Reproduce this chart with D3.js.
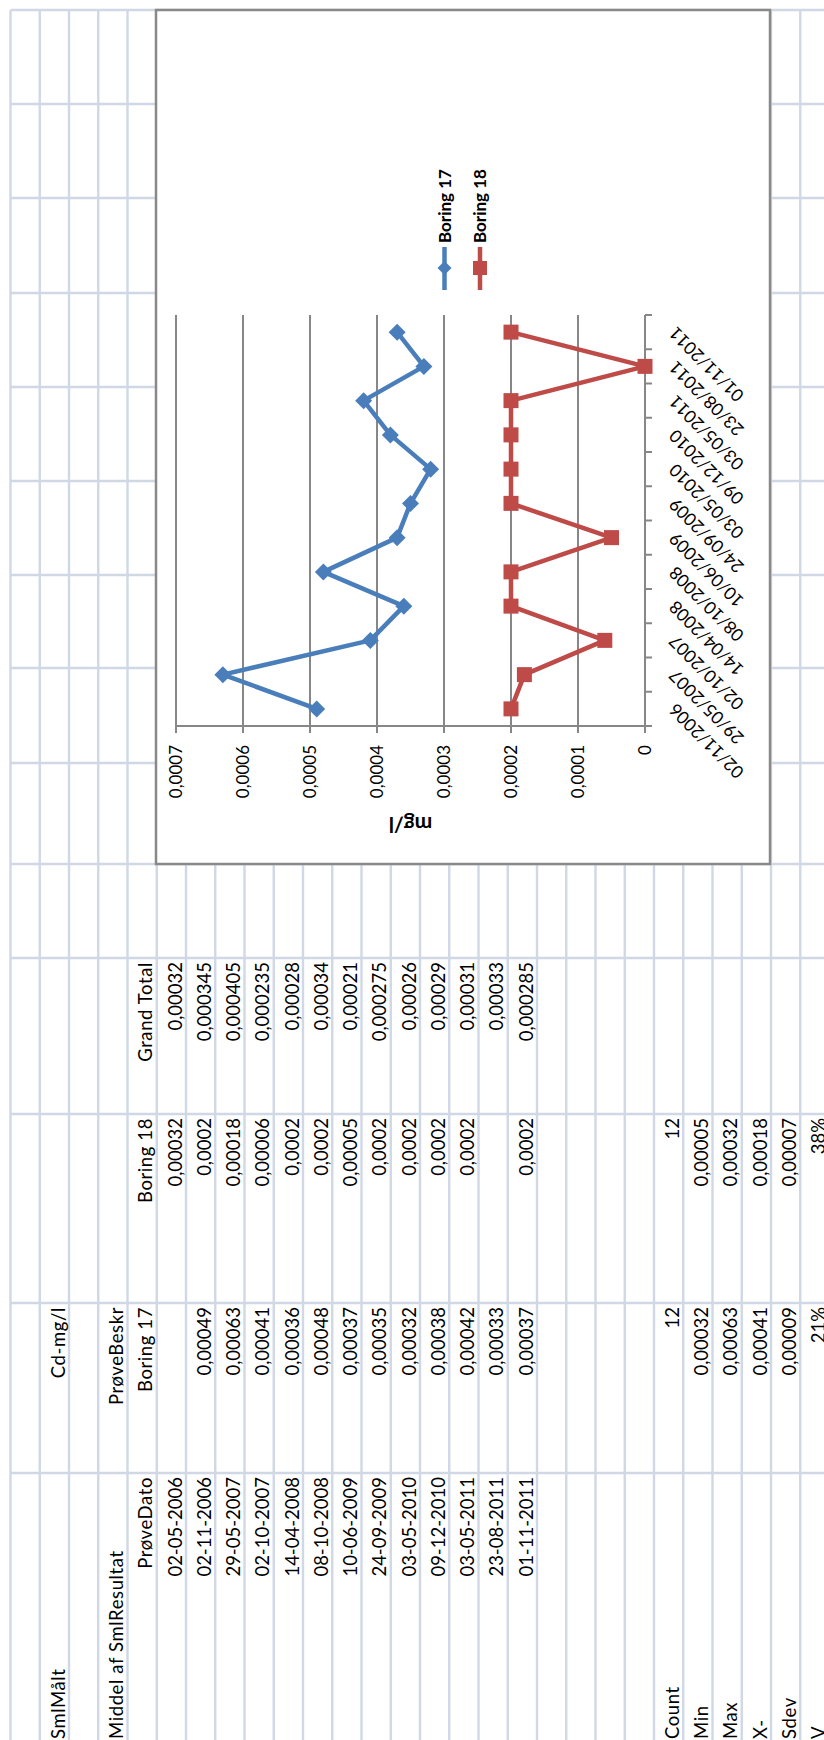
<!DOCTYPE html>
<html>
<head>
<meta charset="utf-8">
<script src="https://cdn.jsdelivr.net/npm/d3@7"></script>
<style>
  html, body { margin: 0; padding: 0; background: #fff; }
  svg { display: block; }
</style>
</head>
<body>
<svg id="sheet"></svg>
<script>
// ---- Pivot table data ----
const sampleDates = ["02-05-2006", "02-11-2006", "29-05-2007", "02-10-2007", "14-04-2008", "08-10-2008",
  "10-06-2009", "24-09-2009", "03-05-2010", "09-12-2010", "03-05-2011", "23-08-2011", "01-11-2011"];
const boring17Values = [null, 0.00049, 0.00063, 0.00041, 0.00036, 0.00048, 0.00037, 0.00035,
  0.00032, 0.00038, 0.00042, 0.00033, 0.00037];
const boring18Values = [0.00032, 0.0002, 0.00018, 0.00006, 0.0002, 0.0002, 0.00005, 0.0002,
  0.0002, 0.0002, 0.0002, null, 0.0002];
const grandTotalValues = [0.00032, 0.000345, 0.000405, 0.000235, 0.00028, 0.00034, 0.00021,
  0.000275, 0.00026, 0.00029, 0.00031, 0.00033, 0.000285];
const statLabels = ["Count", "Min", "Max", "X-", "Sdev", "V"];
const boring17Stats = ["12", "0,00032", "0,00063", "0,00041", "0,00009", "21%"];
const boring18Stats = ["12", "0,00005", "0,00032", "0,00018", "0,00007", "38%"];

// ---- Chart data ----
const chartCategories = ["02/11/2006", "29/05/2007", "02/10/2007", "14/04/2008", "08/10/2008", "10/06/2009",
  "24/09/2009", "03/05/2010", "09/12/2010", "03/05/2011", "23/08/2011", "01/11/2011"];
const chartBoring17 = [0.00049, 0.00063, 0.00041, 0.00036, 0.00048, 0.00037, 0.00035, 0.00032,
  0.00038, 0.00042, 0.00033, 0.00037];
const chartBoring18 = [0.0002, 0.00018, 0.00006, 0.0002, 0.0002, 0.00005, 0.0002, 0.0002,
  0.0002, 0.0002, 0, 0.0002];
const yTickValues = [0, 0.0001, 0.0002, 0.0003, 0.0004, 0.0005, 0.0006, 0.0007];
const yTickLabels = ["0", "0,0001", "0,0002", "0,0003", "0,0004", "0,0005", "0,0006", "0,0007"];
const seriesNames = ["Boring 17", "Boring 18"];

// ---- Page setup: the worksheet is laid out landscape and turned a quarter turn ----
const W = 824, H = 1740;
const svg = d3.select("#sheet").attr("width", W).attr("height", H);
svg.append("rect").attr("width", W).attr("height", H).attr("fill", "#fff");
const sheet = svg.append("g").attr("transform", `translate(0,${H}) rotate(-90)`);

const FONT = "Lato, 'Open Sans', sans-serif";
const gridColor = "#d0d7e5";

// Worksheet grid
const rowTop = 10.5, rowH = 29.25, rowCount = 29;
const rowLines = d3.range(rowCount + 1).map(k => rowTop + rowH * k);
const colEdges = [267, 437, 626, 782, 876, 977, 1072, 1165, 1259, 1353, 1447, 1542, 1636, 1730];
const sheetRight = 1730;

const grid = sheet.append("g").attr("stroke", gridColor).attr("stroke-width", 2.4);
grid.selectAll("line.h").data(rowLines).join("line")
  .attr("x1", 0).attr("x2", sheetRight).attr("y1", d => d).attr("y2", d => d);
grid.selectAll("line.v").data(colEdges).join("line")
  .attr("x1", d => d).attr("x2", d => d).attr("y1", rowTop).attr("y2", rowLines[rowLines.length - 1]);

// Cell text helpers
const cells = sheet.append("g").attr("font-family", FONT).attr("font-size", 18.5).attr("fill", "#000");
const rowBase = r => rowTop + rowH * (r + 1) - 4.5;
function cell(row, x, text, anchor, isLabel) {
  if (text === null || text === "") return;
  cells.append("text").attr("x", x).attr("y", rowBase(row))
    .attr("text-anchor", anchor)
    .attr("letter-spacing", isLabel ? 0.6 : 0)
    .text(text);
}
const fmt = v => v == null ? "" : String(v).replace(".", ",");
const colA = { left: 1, right: 263 }, colB = 433, colC = 622, colD = 778;

cell(1, colA.left, "SmlMålt", "start", true);
cell(1, colB, "Cd-mg/l", "end", true);
cell(3, colA.left, "Middel af SmlResultat", "start", true);
cell(3, colB, "PrøveBeskr", "end", true);
cell(4, colA.right, "PrøveDato", "end", true);
cell(4, colB, seriesNames[0], "end", true);
cell(4, colC, seriesNames[1], "end", true);
cell(4, colD, "Grand Total", "end", true);
sampleDates.forEach((d, i) => {
  const r = 5 + i;
  cell(r, colA.right, d, "end");
  cell(r, colB, fmt(boring17Values[i]), "end");
  cell(r, colC, fmt(boring18Values[i]), "end");
  cell(r, colD, fmt(grandTotalValues[i]), "end");
});
statLabels.forEach((s, i) => {
  const r = 22 + i;
  cell(r, colA.left, s, "start", true);
  cell(r, colB, boring17Stats[i], "end");
  cell(r, colC, boring18Stats[i], "end");
});

// ---- Embedded line chart ----
const chartBox = { x0: 876, x1: 1730, y0: 156, y1: 770 };
const chart = sheet.append("g");
chart.append("rect")
  .attr("x", chartBox.x0).attr("y", chartBox.y0)
  .attr("width", chartBox.x1 - chartBox.x0).attr("height", chartBox.y1 - chartBox.y0)
  .attr("fill", "#fff").attr("stroke", "#898989").attr("stroke-width", 2.5);

const plot = { left: 1014, right: 1425, top: 176, bottom: 645 };
const x = d3.scaleBand().domain(chartCategories).range([plot.left, plot.right]);
const y = d3.scaleLinear().domain([0, 0.0007]).range([plot.bottom, plot.top]);
const cx = c => x(c) + x.bandwidth() / 2;
const axisColor = "#878787";

// Horizontal gridlines
chart.append("g").selectAll("line").data(yTickValues.filter(v => v > 0)).join("line")
  .attr("x1", plot.left).attr("x2", plot.right)
  .attr("y1", d => y(d)).attr("y2", d => y(d))
  .attr("stroke", axisColor).attr("stroke-width", 2);

// Value axis
const yAxis = chart.append("g");
yAxis.append("line").attr("x1", plot.left).attr("x2", plot.left)
  .attr("y1", plot.top).attr("y2", plot.bottom).attr("stroke", axisColor).attr("stroke-width", 2);
yAxis.selectAll("line.tick").data(yTickValues).join("line")
  .attr("x1", plot.left - 7).attr("x2", plot.left)
  .attr("y1", d => y(d)).attr("y2", d => y(d))
  .attr("stroke", axisColor).attr("stroke-width", 2);
yAxis.selectAll("text").data(yTickValues).join("text")
  .attr("x", 995).attr("y", d => y(d)).attr("dy", "0.36em")
  .attr("text-anchor", "end").attr("font-family", FONT).attr("font-size", 17).attr("fill", "#000")
  .text((d, i) => yTickLabels[i]);

// Axis title
chart.append("text")
  .attr("transform", `translate(923,${(plot.top + plot.bottom) / 2}) rotate(-90)`)
  .attr("text-anchor", "middle").attr("font-family", FONT).attr("font-weight", "bold")
  .attr("font-size", 21).attr("fill", "#000").text("mg/l");

// Category axis
const xAxis = chart.append("g");
xAxis.append("line").attr("x1", plot.left).attr("x2", plot.right)
  .attr("y1", plot.bottom).attr("y2", plot.bottom).attr("stroke", axisColor).attr("stroke-width", 2);
const bounds = chartCategories.map(c => x(c)).concat([plot.right]);
xAxis.selectAll("line.tick").data(bounds).join("line")
  .attr("x1", d => d).attr("x2", d => d)
  .attr("y1", plot.bottom).attr("y2", plot.bottom + 7)
  .attr("stroke", axisColor).attr("stroke-width", 2);
xAxis.selectAll("text").data(chartCategories).join("text")
  .attr("transform", d => `translate(${cx(d) + 2},672) rotate(-45)`)
  .attr("text-anchor", "end").attr("dy", "0.36em")
  .attr("font-family", FONT).attr("font-size", 17.5).attr("fill", "#000")
  .text(d => d);

// Series
const blue = "#4a7ebb", red = "#be4b48";
const line = d3.line().x((d, i) => cx(chartCategories[i])).y(d => y(d));
const diamond = r => `M0,${-r}L${r},0L0,${r}L${-r},0Z`;

chart.append("path").datum(chartBoring17).attr("d", line)
  .attr("fill", "none").attr("stroke", blue).attr("stroke-width", 4.5).attr("stroke-linejoin", "round");
chart.append("g").selectAll("path").data(chartBoring17).join("path")
  .attr("transform", (d, i) => `translate(${cx(chartCategories[i])},${y(d)})`)
  .attr("d", diamond(8.5)).attr("fill", blue);

chart.append("path").datum(chartBoring18).attr("d", line)
  .attr("fill", "none").attr("stroke", red).attr("stroke-width", 4.5).attr("stroke-linejoin", "round");
chart.append("g").selectAll("rect").data(chartBoring18).join("rect")
  .attr("x", (d, i) => cx(chartCategories[i]) - 7.5).attr("y", d => y(d) - 7.5)
  .attr("width", 15).attr("height", 15).attr("fill", red);

// Legend
const legend = chart.append("g");
const legendRows = [
  { name: seriesNames[0], color: blue, ypos: 444.5, shape: "diamond" },
  { name: seriesNames[1], color: red, ypos: 480, shape: "square" }
];
legendRows.forEach(e => {
  legend.append("line").attr("x1", 1450).attr("x2", 1493).attr("y1", e.ypos).attr("y2", e.ypos)
    .attr("stroke", e.color).attr("stroke-width", 4.5);
  if (e.shape === "diamond") {
    legend.append("path").attr("transform", `translate(1472,${e.ypos})`).attr("d", diamond(7)).attr("fill", e.color);
  } else {
    legend.append("rect").attr("x", 1465).attr("y", e.ypos - 7).attr("width", 14).attr("height", 14).attr("fill", e.color);
  }
  legend.append("text").attr("x", 1497).attr("y", e.ypos).attr("dy", "0.36em")
    .attr("font-family", FONT).attr("font-weight", "bold").attr("font-size", 17).attr("fill", "#000")
    .text(e.name);
});
</script>
</body>
</html>
